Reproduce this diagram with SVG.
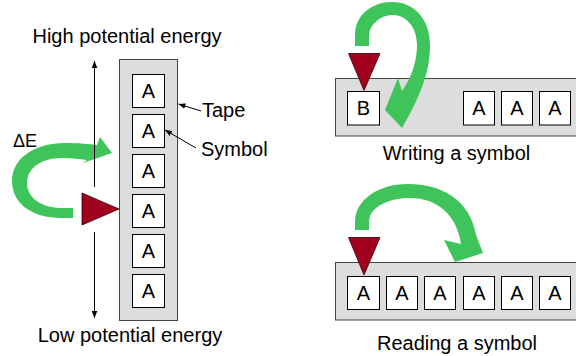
<svg xmlns="http://www.w3.org/2000/svg" width="576" height="356" viewBox="0 0 576 356">
<style>
.lbl{font-family:"Liberation Sans",Arial,sans-serif;font-size:20px;fill:#000}
.sym{font-family:"Liberation Sans",Arial,sans-serif;font-size:20px;fill:#000;text-anchor:middle}
.tape{fill:#dddddd;stroke:#444;stroke-width:1}
.box{fill:#fff;stroke:#000;stroke-width:1}
.head{fill:#a0001e;stroke:#3a0008;stroke-width:0.8}
.green{fill:#3ec45a}
.ln{stroke:#000;stroke-width:1;fill:none}
</style>
<defs>
<marker id="ah" viewBox="0 0 10 10" refX="10" refY="5" markerWidth="7" markerHeight="7" orient="auto-start-reverse" markerUnits="userSpaceOnUse">
<path d="M0,1 L10,5 L0,9 Z" fill="#000"/>
</marker>
</defs>

<g id="left-tape">
<rect class="tape" x="119.5" y="59.5" width="58" height="261"/>
<rect class="box" x="132.5" y="74.5" width="32" height="33"/><text class="sym" x="148.5" y="98">A</text>
<rect class="box" x="132.5" y="114.5" width="32" height="33"/><text class="sym" x="148.5" y="138">A</text>
<rect class="box" x="132.5" y="154.5" width="32" height="33"/><text class="sym" x="148.5" y="178">A</text>
<rect class="box" x="132.5" y="194.5" width="32" height="33"/><text class="sym" x="148.5" y="218">A</text>
<rect class="box" x="132.5" y="234.5" width="32" height="33"/><text class="sym" x="148.5" y="258">A</text>
<rect class="box" x="132.5" y="274.5" width="32" height="33"/><text class="sym" x="148.5" y="298">A</text>
</g>

<g id="left-arrow">
<path class="green" d="M73,218 L62,218 C30,218 12,202 12,181 C12,158 35,143 65,143 C78,143 89,144 97,145 L100,137 L112,153 L83,163 L87,160 C80,159 72,158 62,158 C40,158 27,169 27,183 C27,198 42,208 62,208 L73,208 Z"/>
</g>

<g id="connectors">
<line class="ln" x1="94.5" y1="187" x2="94.5" y2="61" marker-end="url(#ah)"/>
<line class="ln" x1="94.5" y1="232" x2="94.5" y2="318" marker-end="url(#ah)"/>
<line class="ln" x1="201" y1="111" x2="178.5" y2="104" marker-end="url(#ah)"/>
<line class="ln" x1="196" y1="148" x2="165" y2="130" marker-end="url(#ah)"/>
</g>

<g id="left-head">
<polygon class="head" points="82,193 82,225 119,209"/>
</g>

<g id="labels-left">
<text class="lbl" x="127" y="43" text-anchor="middle">High potential energy</text>
<text class="lbl" x="130" y="342" text-anchor="middle">Low potential energy</text>
<text class="lbl" x="13" y="147" font-size="18" style="font-size:18px">ΔE</text>
<text class="lbl" x="202" y="117">Tape</text>
<text class="lbl" x="201" y="156">Symbol</text>
</g>

<g id="write-tape">
<rect class="tape" x="335.5" y="78.5" width="260" height="57.5"/>
<rect class="box" x="347.5" y="91.5" width="32" height="33.5"/><text class="sym" x="363.5" y="115">B</text>
<rect class="box" x="463.5" y="91.5" width="31" height="33.5"/><text class="sym" x="479" y="115">A</text>
<rect class="box" x="501.5" y="91.5" width="31" height="33.5"/><text class="sym" x="517" y="115">A</text>
<rect class="box" x="539.5" y="91.5" width="31" height="33.5"/><text class="sym" x="555" y="115">A</text>
</g>
<g id="write-arrow">
<path class="green" d="M355,46 L355,35 C355,15 372,2 392,2 C415,2 430,20 430,45 C430,75 418,100 402,128 L385,110 L398,78 L402,91 C412,77 417,60 417,45 C417,27 406,15 393,15 C380,15 369,25 369,36 L369,46 Z"/>
</g>
<g id="write-head">
<polygon class="head" points="348.5,53.5 380,53.5 364,90.5"/>
</g>
<text class="lbl" x="456.5" y="160" text-anchor="middle">Writing a symbol</text>

<g id="read-tape">
<rect class="tape" x="335.5" y="262.5" width="260" height="57.5"/>
<rect class="box" x="347.5" y="276.5" width="32" height="33"/><text class="sym" x="363.5" y="300">A</text>
<rect class="box" x="386.5" y="276.5" width="31" height="33"/><text class="sym" x="402" y="300">A</text>
<rect class="box" x="424.5" y="276.5" width="31" height="33"/><text class="sym" x="440" y="300">A</text>
<rect class="box" x="463.5" y="276.5" width="31" height="33"/><text class="sym" x="479" y="300">A</text>
<rect class="box" x="501.5" y="276.5" width="31" height="33"/><text class="sym" x="517" y="300">A</text>
<rect class="box" x="539.5" y="276.5" width="31" height="33"/><text class="sym" x="555" y="300">A</text>
</g>
<g id="read-arrow">
<path class="green" d="M355,230 L355,222 C355,200 378,184 408,184 C442,184 470,200 476,235 L483,253 L455,262 L444,240 L461,244 C457,215 437,198 410,198 C387,198 369,208 369,222 L369,230 Z"/>
</g>
<g id="read-head">
<polygon class="head" points="348.5,237.5 380,237.5 364,275"/>
</g>
<text class="lbl" x="457" y="350" text-anchor="middle">Reading a symbol</text>
</svg>
